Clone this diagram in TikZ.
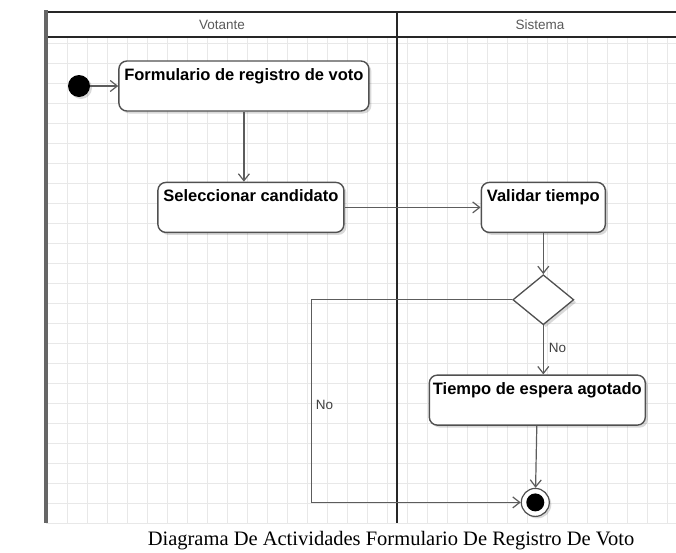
\documentclass[tikz,border=0pt]{standalone}
\usepackage{fontspec}
\newfontfamily\diagfont{Liberation Sans}
\newfontfamily\capfont{Liberation Serif}
\usepackage{xcolor}
\usepackage{tikz}
\usetikzlibrary{shapes.geometric, arrows.meta, positioning, shadows}
\definecolor{edgegray}{HTML}{505050}
\definecolor{flowgray}{HTML}{5C5C5C}
\definecolor{gridgray}{HTML}{E8E8E8}
\tikzset{
  activity/.style={rectangle, draw=edgegray, fill=white, rounded corners=8pt,
                   line width=1.4pt, inner xsep=2pt, inner ysep=0pt,
                   text height=19pt, text depth=31pt, align=center,
                   font=\diagfont\bfseries\fontsize{16.5}{18}\selectfont,
                   drop shadow={shadow xshift=2.5pt, shadow yshift=-2.5pt, fill=black, opacity=0.15}},
  decision/.style={diamond, draw=edgegray, fill=white, line width=1.3pt,
                   minimum width=61pt, minimum height=50pt, inner sep=0pt,
                   drop shadow={shadow xshift=2.5pt, shadow yshift=-2.5pt, fill=black, opacity=0.15}},
  startdot/.style={circle, fill=black, minimum size=22pt, inner sep=0pt,
                   drop shadow={shadow xshift=2pt, shadow yshift=-2pt, fill=black, opacity=0.15}},
  endring/.style={circle, draw=edgegray, fill=white, line width=1.2pt,
                  minimum size=28pt, inner sep=0pt,
                  drop shadow={shadow xshift=2pt, shadow yshift=-2pt, fill=black, opacity=0.15}},
  enddot/.style={circle, fill=black, minimum size=18pt, inner sep=0pt},
  flow/.style={-{Straight Barb[length=7pt, width=11pt, line width=1.2pt]}, draw=flowgray, line width=1.2pt},
  guard/.style={font=\diagfont\fontsize{13.5}{15}\selectfont, text=black!75, inner sep=1pt},
  lanehead/.style={font=\diagfont\fontsize{13.5}{15}\selectfont, text=black!65},
  lanebar/.style={draw=black!85, line width=1.8pt},
  laneedge/.style={draw=black!60, line width=3.5pt},
  gridline/.style={draw=gridgray, line width=0.8pt},
}
\begin{document}
\begin{tikzpicture}[x=1pt, y=-1pt]
  \useasboundingbox (0,0) rectangle (676,552);

  % Grid
  \foreach \gx in {47,67,...,667} \draw[gridline] (\gx,37) -- (\gx,523);
  \foreach \gy in {43,63,...,523} \draw[gridline] (46,\gy) -- (676,\gy);

  % Swimlanes
  \draw[lanebar] (46,12) -- (676,12);
  \draw[lanebar] (46,37) -- (676,37);
  \draw[lanebar] (397,12) -- (397,523);
  \draw[laneedge] (46,10) -- (46,523);
  \node[lanehead] (votante) at (222,25) {Votante};
  \node[lanehead] (sistema) at (540,25) {Sistema};

  % Votante
  \node[startdot] (start) at (79,86) {};
  \node[activity, minimum width=250pt, right=28pt of start] (form) {Formulario de registro de voto};
  \node[activity, minimum width=186pt, below=70pt of form, xshift=7pt] (sel) {Seleccionar candidato};

  % Sistema
  \node[activity, minimum width=124pt, right=136pt of sel] (val) {Validar tiempo};
  \node[decision, below=41pt of val] (dec) {};
  \node[activity, minimum width=216pt, below=49pt of dec, xshift=-6pt] (tiempo) {Tiempo de espera agotado};
  \node[endring, below=62pt of tiempo, xshift=-2pt] (end) {};
  \node[enddot] (enddot) at (end) {};

  % Edges
  \draw[flow] (start) -- (form);
  \draw[flow] (form.south) -- (form.south |- sel.north);
  \draw[flow] (sel) -- (val);
  \draw[flow] (val) -- (dec);
  \draw[flow] (dec.south) -- node[guard, right=4pt, pos=0.45] (nodown) {No} (dec.south |- tiempo.north);
  \draw[flow] (tiempo) -- (end);

  % Timeout branch back round the left of the lane divider
  \draw[flow] (dec.west) -- ++(-201,0) coordinate (turn)
    -- node[guard, right=3pt, pos=0.52] (noleft) {No} (turn |- end) -- (end);

  % Caption
  \node[font=\capfont\fontsize{20.5}{23}\selectfont] (caption) at (391,541)
    {Diagrama De Actividades Formulario De Registro De Voto};
\end{tikzpicture}
\end{document}
